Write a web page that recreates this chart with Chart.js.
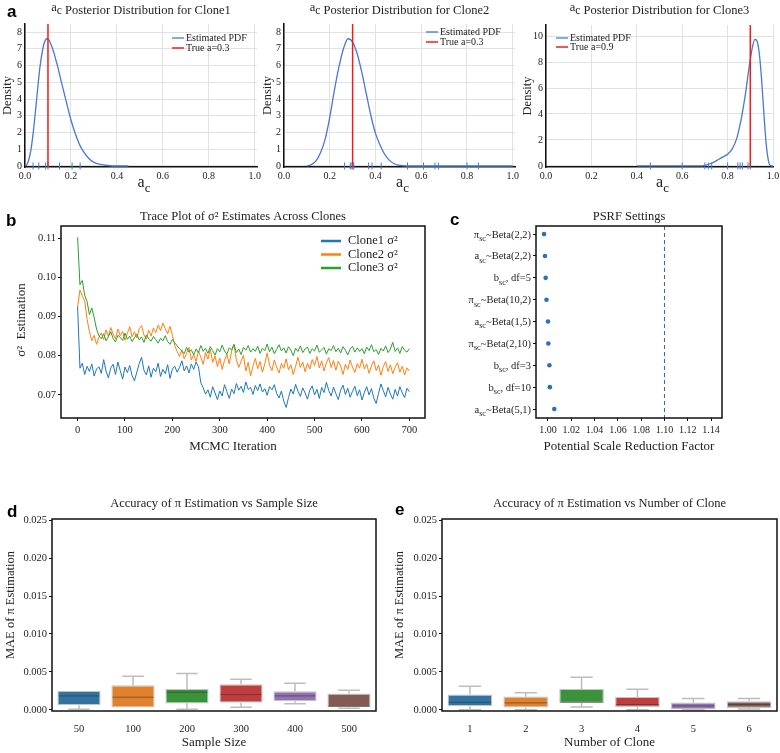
<!DOCTYPE html>
<html>
<head>
<meta charset="utf-8">
<title>Posterior, trace, PSRF and MAE panels</title>
<script src="https://cdn.jsdelivr.net/npm/chart.js@4.4.1/dist/chart.umd.min.js"></script>
<style>
  body { margin: 0; background: #fff; }
  #fig { position: relative; width: 780px; height: 753px; overflow: hidden; background: #fff; }
  #fig canvas { position: absolute; }
</style>
</head>
<body>
<div id="fig">
  <canvas id="a1" width="262" height="195" style="left:0px;top:0px"></canvas>
  <canvas id="a2" width="260" height="195" style="left:260px;top:0px"></canvas>
  <canvas id="a3" width="260" height="195" style="left:520px;top:0px"></canvas>
  <canvas id="bChart" width="430" height="255" style="left:0px;top:200px"></canvas>
  <canvas id="cChart" width="380" height="255" style="left:400px;top:200px"></canvas>
  <canvas id="dChart" width="390" height="273" style="left:0px;top:480px"></canvas>
  <canvas id="eChart" width="390" height="273" style="left:390px;top:480px"></canvas>
</div>
<script>
// ---- panel a: posterior density of a_c per clone ----
const clone1Grid = [0.005, 0.015, 0.025, 0.035, 0.045, 0.055, 0.065, 0.075, 0.085, 0.095, 0.105, 0.115, 0.125, 0.135, 0.145,
  0.155, 0.165, 0.175, 0.185, 0.195, 0.21, 0.225, 0.24, 0.26, 0.28, 0.30, 0.33, 0.36, 0.40, 0.45];
const clone1Pdf = [0.0, 0.3, 0.9, 1.9, 3.2, 4.6, 5.9, 6.8, 7.4, 7.6, 7.5, 7.2, 6.8, 6.3, 5.8,
  5.2, 4.65, 4.1, 3.55, 3.0, 2.3, 1.7, 1.2, 0.75, 0.42, 0.22, 0.09, 0.03, 0.0, 0.0];
const clone2Grid = [0.10, 0.12, 0.14, 0.16, 0.18, 0.20, 0.22, 0.24, 0.26, 0.28, 0.30, 0.32, 0.34, 0.36, 0.38,
  0.40, 0.42, 0.44, 0.46, 0.48, 0.50, 0.55, 0.70, 0.85, 1.00];
const clone2Pdf = [0.0, 0.08, 0.3, 0.8, 1.6, 2.9, 4.5, 5.9, 7.0, 7.6, 7.4, 6.7, 5.6, 4.3, 3.0,
  1.95, 1.25, 0.7, 0.35, 0.15, 0.05, 0.0, 0.0, 0.0, 0.0];
const clone3Grid = [0.40, 0.60, 0.68, 0.70, 0.72, 0.74, 0.76, 0.78, 0.80, 0.82, 0.84, 0.85, 0.86, 0.87, 0.88,
  0.89, 0.90, 0.91, 0.92, 0.93, 0.94, 0.95, 0.96, 0.97, 0.98, 0.99, 1.00];
const clone3Pdf = [0.0, 0.0, 0.0, 0.05, 0.15, 0.3, 0.5, 0.7, 0.9, 1.3, 2.1, 2.8, 3.6, 4.6, 5.7,
  7.0, 8.2, 9.2, 9.75, 9.6, 8.6, 6.6, 4.0, 1.7, 0.4, 0.02, 0.0];
const clone1Rug = [0.035, 0.06, 0.09, 0.10, 0.15, 0.205, 0.24];
const clone2Rug = [0.265, 0.29, 0.297, 0.301, 0.305, 0.37, 0.385, 0.425, 0.54, 0.61, 0.66, 0.675, 0.80, 0.85];
const clone3Rug = [0.46, 0.60, 0.70, 0.715, 0.73, 0.80, 0.845, 0.855, 0.865, 0.89, 0.90];
const trueLines = [0.1, 0.3, 0.9];
const trueLabels = ['True a=0.3', 'True a=0.3', 'True a=0.9'];

// ---- panel b: sigma^2 trace, one value every 5 iterations ----
const traceStep = 5;
const clone1Trace = [
  0.0926, 0.0768, 0.0781, 0.0752, 0.0773, 0.0760, 0.0779, 0.0748, 0.0766, 0.0772,
  0.0755, 0.0790, 0.0761, 0.0743, 0.0769, 0.0778, 0.0752, 0.0784, 0.0762, 0.0740,
  0.0771, 0.0757, 0.0775, 0.0749, 0.0736, 0.0758, 0.0780, 0.0796, 0.0763, 0.0751,
  0.0774, 0.0745, 0.0768, 0.0759, 0.0781, 0.0747, 0.0765, 0.0754, 0.0777, 0.0742,
  0.0766, 0.0773, 0.0758, 0.0770, 0.0787, 0.0761, 0.0774, 0.0756, 0.0779, 0.0765,
  0.0784, 0.0772, 0.0731, 0.0718, 0.0702, 0.0713, 0.0694, 0.0721, 0.0705, 0.0688,
  0.0710, 0.0697, 0.0726, 0.0708, 0.0691, 0.0715, 0.0703, 0.0729, 0.0712, 0.0722,
  0.0706, 0.0733, 0.0714, 0.0719, 0.0701, 0.0724, 0.0711, 0.0728, 0.0707, 0.0716,
  0.0699, 0.0721, 0.0713, 0.0726, 0.0704, 0.0692, 0.0710, 0.0684, 0.0668, 0.0693,
  0.0715, 0.0702, 0.0727, 0.0709, 0.0696, 0.0718, 0.0705, 0.0689, 0.0712, 0.0723,
  0.0700, 0.0714, 0.0691, 0.0719, 0.0706, 0.0732, 0.0711, 0.0697, 0.0720, 0.0703,
  0.0688, 0.0712, 0.0725, 0.0701, 0.0717, 0.0694, 0.0709, 0.0722, 0.0698, 0.0713,
  0.0687, 0.0706, 0.0721, 0.0700, 0.0716, 0.0692, 0.0678, 0.0704, 0.0728, 0.0711,
  0.0695, 0.0719, 0.0702, 0.0689, 0.0714, 0.0697, 0.0721, 0.0705, 0.0693, 0.0717,
  0.0708];
const clone2Trace = [
  0.0925, 0.0968, 0.0952, 0.0940, 0.0893, 0.0861, 0.0838, 0.0852, 0.0829, 0.0847,
  0.0858, 0.0841, 0.0866, 0.0849, 0.0872, 0.0855, 0.0843, 0.0868, 0.0851, 0.0862,
  0.0839, 0.0857, 0.0874, 0.0848, 0.0861, 0.0845, 0.0869, 0.0877, 0.0853, 0.0842,
  0.0865, 0.0850, 0.0871, 0.0859, 0.0878, 0.0864, 0.0883, 0.0869, 0.0856, 0.0875,
  0.0852, 0.0826, 0.0811, 0.0798, 0.0815, 0.0792, 0.0806, 0.0821, 0.0789, 0.0803,
  0.0785, 0.0812, 0.0796, 0.0778, 0.0808, 0.0791, 0.0817, 0.0783, 0.0799, 0.0772,
  0.0794, 0.0765, 0.0788, 0.0804, 0.0779, 0.0812, 0.0828, 0.0790, 0.0770, 0.0786,
  0.0801, 0.0761, 0.0783, 0.0748, 0.0774, 0.0793, 0.0767, 0.0785, 0.0758, 0.0779,
  0.0807, 0.0776, 0.0762, 0.0789, 0.0771, 0.0756, 0.0780, 0.0768, 0.0792, 0.0764,
  0.0777, 0.0752, 0.0773, 0.0796, 0.0770, 0.0784, 0.0759, 0.0781, 0.0766, 0.0790,
  0.0775, 0.0798, 0.0769, 0.0787, 0.0761, 0.0782, 0.0795, 0.0770, 0.0788, 0.0763,
  0.0786, 0.0774, 0.0752, 0.0778, 0.0765, 0.0789, 0.0771, 0.0757, 0.0780, 0.0768,
  0.0791, 0.0766, 0.0779, 0.0755, 0.0774, 0.0787, 0.0762, 0.0776, 0.0750, 0.0772,
  0.0785, 0.0760, 0.0777, 0.0754, 0.0770, 0.0782, 0.0758, 0.0773, 0.0751, 0.0769,
  0.0761];
const clone3Trace = [
  0.1102, 0.0981, 0.0992, 0.0954, 0.0938, 0.0905, 0.0922, 0.0897, 0.0868, 0.0851,
  0.0843, 0.0856, 0.0838, 0.0849, 0.0861, 0.0844, 0.0835, 0.0852, 0.0847, 0.0839,
  0.0858, 0.0842, 0.0850, 0.0836, 0.0846, 0.0855, 0.0840, 0.0848, 0.0834, 0.0853,
  0.0843, 0.0837, 0.0849, 0.0841, 0.0832, 0.0845, 0.0838, 0.0851, 0.0836, 0.0829,
  0.0842, 0.0833, 0.0825, 0.0818, 0.0812, 0.0805, 0.0821, 0.0809, 0.0815, 0.0802,
  0.0817, 0.0808, 0.0826, 0.0811, 0.0819, 0.0806, 0.0823, 0.0813, 0.0801, 0.0818,
  0.0810, 0.0827, 0.0812, 0.0804, 0.0820, 0.0815, 0.0829, 0.0808, 0.0817, 0.0803,
  0.0821, 0.0814, 0.0826, 0.0809, 0.0818, 0.0811, 0.0824, 0.0806, 0.0819, 0.0813,
  0.0830, 0.0810, 0.0822, 0.0805, 0.0816, 0.0828, 0.0812, 0.0820, 0.0807, 0.0823,
  0.0814, 0.0800, 0.0819, 0.0811, 0.0825, 0.0808, 0.0817, 0.0822, 0.0806, 0.0818,
  0.0812, 0.0827, 0.0809, 0.0815, 0.0821, 0.0804, 0.0818, 0.0813, 0.0826, 0.0810,
  0.0819, 0.0807, 0.0823, 0.0814, 0.0802, 0.0817, 0.0824, 0.0809, 0.0820, 0.0811,
  0.0818, 0.0805, 0.0822, 0.0813, 0.0828, 0.0810, 0.0816, 0.0803, 0.0819, 0.0812,
  0.0825, 0.0808, 0.0817, 0.0834, 0.0811, 0.0820, 0.0806, 0.0823, 0.0814, 0.0809,
  0.0818];
const traceNames = ['Clone1 σ²', 'Clone2 σ²', 'Clone3 σ²'];

// ---- panel c: PSRF per prior setting ----
const psrfSettings = ['π_sc~Beta(2,2)', 'a_sc~Beta(2,2)', 'b_sc, df=5', 'π_sc~Beta(10,2)', 'a_sc~Beta(1,5)',
  'π_sc~Beta(2,10)', 'b_sc, df=3', 'b_sc, df=10', 'a_sc~Beta(5,1)'];
const psrfValues = [0.9966, 0.9974, 0.9980, 0.9987, 1.0000, 1.0003, 1.0012, 1.0016, 1.0054];
const psrfThreshold = 1.10;

// ---- panels d, e: MAE of pi (box summaries) ----
const sampleSizes = ['50', '100', '200', '300', '400', '500'];
const sizeMin = [0.00009, 0.00031, 0.00009, 0.00035, 0.00079, 0.00022];
const sizeQ1 = [0.00061, 0.00031, 0.00083, 0.00096, 0.00114, 0.00035];
const sizeMedian = [0.00184, 0.00167, 0.00232, 0.00202, 0.00184, 0.00045];
const sizeQ3 = [0.00250, 0.00325, 0.00276, 0.00338, 0.00246, 0.00215];
const sizeMax = [0.00250, 0.00443, 0.00478, 0.00404, 0.00351, 0.00259];

const cloneCounts = ['1', '2', '3', '4', '5', '6'];
const cloneMin = [0.00000, 0.00000, 0.00039, 0.00002, 0.00000, 0.00010];
const cloneQ1 = [0.00048, 0.00031, 0.00092, 0.00039, 0.00004, 0.00026];
const cloneMedian = [0.00101, 0.00092, 0.00101, 0.00070, 0.00053, 0.00070];
const cloneQ3 = [0.00202, 0.00175, 0.00276, 0.00171, 0.00096, 0.00114];
const cloneMax = [0.00311, 0.00224, 0.00430, 0.00272, 0.00149, 0.00149];

// ---- styling ----
const SERIF = "'Liberation Serif', 'Times New Roman', serif";
const SANS = "'Liberation Sans', Arial, sans-serif";
const INK = '#222';
const PDF_BLUE = '#4a78d0';
const TRUE_RED = '#ee1c1c';
const TRACE_COLORS = ['#1f77b4', '#ff7f0e', '#2ca02c'];
const BOX_COLORS = ['#3274a1', '#e1812c', '#3a923a', '#c03d3e', '#9372b2', '#845b53'];

Chart.defaults.font.family = SERIF;
Chart.defaults.color = INK;
Chart.defaults.animation = false;
Chart.defaults.events = [];
Chart.defaults.plugins.legend.display = false;
Chart.defaults.plugins.tooltip.enabled = false;

function xy(xs, ys) {
  return xs.map((x, i) => ({ x: x, y: ys[i] }));
}

function fitWidth(w) {
  return s => { s.width = w; s.paddingTop = 0; s.paddingBottom = 0; s.paddingLeft = 0; s.paddingRight = 0; };
}
function fitHeight(h) {
  return s => { s.height = h; s.paddingTop = 0; s.paddingBottom = 0; s.paddingLeft = 0; s.paddingRight = 0; };
}

function put(ctx, str, x, y, size, opt) {
  opt = opt || {};
  ctx.font = (opt.bold ? 'bold ' : '') + size + 'px ' + (opt.family || SERIF);
  ctx.fillStyle = opt.color || INK;
  ctx.textAlign = opt.align || 'center';
  ctx.textBaseline = opt.baseline || 'alphabetic';
  if (opt.rotate) {
    ctx.save();
    ctx.translate(x, y);
    ctx.rotate(opt.rotate);
    ctx.fillText(str, 0, 0);
    ctx.restore();
  } else {
    ctx.fillText(str, x, y);
  }
}

// parts: [text, size, dy]
function rich(ctx, parts, x, y, align) {
  let width = 0;
  parts.forEach(p => { ctx.font = p[1] + 'px ' + SERIF; width += ctx.measureText(p[0]).width; });
  let cx = align === 'right' ? x - width : align === 'left' ? x : x - width / 2;
  ctx.fillStyle = INK;
  ctx.textAlign = 'left';
  ctx.textBaseline = 'alphabetic';
  parts.forEach(p => {
    ctx.font = p[1] + 'px ' + SERIF;
    ctx.fillText(p[0], cx, y + p[2]);
    cx += ctx.measureText(p[0]).width;
  });
}

function subParts(label, size) {
  return label.split(/_([a-z]+)/).map((s, i) => i % 2 ? [s, size * 0.78, size * 0.32] : [s, size, 0]);
}

function frame(ctx, a) {
  ctx.strokeStyle = '#111';
  ctx.lineWidth = 1.5;
  ctx.strokeRect(a.left, a.top, a.right - a.left, a.bottom - a.top);
}

function legendRow(ctx, color, x1, x2, y, lw, label, size) {
  ctx.strokeStyle = color;
  ctx.lineWidth = lw;
  ctx.beginPath();
  ctx.moveTo(x1, y);
  ctx.lineTo(x2, y);
  ctx.stroke();
  put(ctx, label, x2 + 2, y, size, { align: 'left', baseline: 'middle' });
}

function deco(fn) {
  return {
    id: 'deco',
    afterDraw(chart) {
      const ctx = chart.ctx;
      ctx.save();
      fn(ctx, chart, chart.chartArea);
      ctx.restore();
    }
  };
}

function whiskers(lo, hi, med) {
  return {
    id: 'whiskers',
    afterDatasetsDraw(chart) {
      const ctx = chart.ctx;
      const y = chart.scales.y;
      const bars = chart.getDatasetMeta(0).data;
      const q = chart.data.datasets[0].data;
      ctx.save();
      bars.forEach((bar, i) => {
        const cx = bar.x, half = bar.width / 2, cap = bar.width / 4;
        ctx.strokeStyle = '#bdbdbd';
        ctx.lineWidth = 1.5;
        ctx.beginPath();
        if (hi[i] > q[i][1]) {
          ctx.moveTo(cx, y.getPixelForValue(q[i][1]));
          ctx.lineTo(cx, y.getPixelForValue(hi[i]));
          ctx.moveTo(cx - cap, y.getPixelForValue(hi[i]));
          ctx.lineTo(cx + cap, y.getPixelForValue(hi[i]));
        }
        if (lo[i] < q[i][0]) {
          ctx.moveTo(cx, y.getPixelForValue(q[i][0]));
          ctx.lineTo(cx, y.getPixelForValue(lo[i]));
          ctx.moveTo(cx - cap, y.getPixelForValue(lo[i]));
          ctx.lineTo(cx + cap, y.getPixelForValue(lo[i]));
        }
        ctx.stroke();
        ctx.strokeStyle = 'rgba(50,50,50,0.55)';
        ctx.lineWidth = 1;
        ctx.beginPath();
        ctx.moveTo(cx - half + 1, y.getPixelForValue(med[i]));
        ctx.lineTo(cx + half - 1, y.getPixelForValue(med[i]));
        ctx.stroke();
      });
      ctx.restore();
    }
  };
}

// ---- panel a ----
function densityChart(cfg) {
  return new Chart(document.getElementById(cfg.id), {
    type: 'scatter',
    data: {
      datasets: [
        { data: [{ x: cfg.truth, y: cfg.yMin }, { x: cfg.truth, y: cfg.yMax }], showLine: true,
          borderColor: TRUE_RED, borderWidth: 1.5, pointRadius: 0, order: 0 },
        { data: xy(cfg.grid, cfg.pdf), showLine: true, borderColor: PDF_BLUE, borderWidth: 1.3,
          pointRadius: 0, cubicInterpolationMode: 'monotone', order: 1 },
        { data: cfg.rug.map(v => ({ x: v, y: 0 })), pointStyle: 'line', pointRotation: 90, pointRadius: 3.5,
          pointBorderColor: PDF_BLUE, pointBorderWidth: 1, clip: false, order: 2 }
      ]
    },
    options: {
      responsive: false,
      layout: { padding: { left: 0, top: cfg.top, right: cfg.right, bottom: 0 } },
      scales: {
        x: {
          type: 'linear', min: 0, max: cfg.xMax, afterFit: fitHeight(28),
          grid: { color: '#e2e2e2', drawTicks: false },
          border: { color: '#111', width: 1.5 },
          ticks: { stepSize: 0.2, includeBounds: false, padding: 3, autoSkip: false, maxRotation: 0,
                   font: { size: 10 }, callback: v => v.toFixed(1) }
        },
        y: {
          min: cfg.yMin, max: cfg.yMax, afterFit: fitWidth(cfg.left),
          grid: { color: '#e2e2e2', drawTicks: false },
          border: { color: '#111', width: 1.5 },
          ticks: { stepSize: cfg.yStep, includeBounds: false, padding: 3, font: { size: 10 } }
        }
      }
    },
    plugins: [deco((ctx, chart, a) => {
      const mid = (a.left + a.right) / 2;
      if (cfg.letter) put(ctx, 'a', 7, 17, 17, { family: SANS, bold: true, align: 'left', color: '#000' });
      rich(ctx, [['a', 12.5, -3], ['c', 11.5, 0], [' Posterior Distribution for ' + cfg.name, 12.5, 0]], mid, 14);
      rich(ctx, [['a', 16, 0], ['c', 13, 5]], mid + 3, 187);
      put(ctx, 'Density', 8, (a.top + a.bottom) / 2, 12.5, { rotate: -Math.PI / 2, baseline: 'middle' });
      legendRow(ctx, PDF_BLUE, cfg.lg[0], cfg.lg[1], cfg.lg[2], 1.3, 'Estimated PDF', 10);
      legendRow(ctx, TRUE_RED, cfg.lg[0], cfg.lg[1], cfg.lg[3], 1.5, cfg.truthLabel, 10);
    })]
  });
}

densityChart({ id: 'a1', name: 'Clone1', grid: clone1Grid, pdf: clone1Pdf, rug: clone1Rug, truth: trueLines[0],
  truthLabel: trueLabels[0], yMin: -0.06, yMax: 8.48, yStep: 1, xMax: 1.01, top: 24, right: 5, left: 25,
  lg: [172, 184, 38, 48], letter: true });
densityChart({ id: 'a2', name: 'Clone2', grid: clone2Grid, pdf: clone2Pdf, rug: clone2Rug, truth: trueLines[1],
  truthLabel: trueLabels[1], yMin: -0.06, yMax: 8.48, yStep: 1, xMax: 1.01, top: 24, right: 5, left: 24,
  lg: [166, 178, 32, 42] });
densityChart({ id: 'a3', name: 'Clone3', grid: clone3Grid, pdf: clone3Pdf, rug: clone3Rug, truth: trueLines[2],
  truthLabel: trueLabels[2], yMin: -0.08, yMax: 10.85, yStep: 2, xMax: 1.0, top: 25, right: 7, left: 26,
  lg: [36, 48, 38, 47] });

// ---- panel b ----
const traceIter = clone1Trace.map((_, i) => i * traceStep);
const traces = [clone1Trace, clone2Trace, clone3Trace];

new Chart(document.getElementById('bChart'), {
  type: 'scatter',
  data: {
    datasets: traces.map((t, k) => ({
      data: xy(traceIter, t), showLine: true, borderColor: TRACE_COLORS[k], borderWidth: 1,
      pointRadius: 0, order: 2 - k
    }))
  },
  options: {
    responsive: false,
    layout: { padding: { left: 0, top: 26, right: 5, bottom: 0 } },
    scales: {
      x: {
        min: -35, max: 733, afterFit: fitHeight(37),
        grid: { drawOnChartArea: false, tickLength: 3, color: '#111' },
        border: { display: false },
        ticks: { stepSize: 100, includeBounds: false, padding: 3, autoSkip: false, maxRotation: 0,
                 font: { size: 10.5 }, callback: v => String(v) }
      },
      y: {
        min: 0.0641, max: 0.1131, afterFit: fitWidth(61),
        grid: { drawOnChartArea: false, tickLength: 3, color: '#111' },
        border: { display: false },
        ticks: { stepSize: 0.01, includeBounds: false, padding: 2, font: { size: 10.5 }, callback: v => v.toFixed(2) }
      }
    }
  },
  plugins: [deco((ctx, chart, a) => {
    frame(ctx, a);
    put(ctx, 'b', 6, 26, 17, { family: SANS, bold: true, align: 'left', color: '#000' });
    put(ctx, 'Trace Plot of σ² Estimates Across Clones', (a.left + a.right) / 2, 20, 12.5);
    put(ctx, 'σ²  Estimation', 22, 120, 13, { rotate: -Math.PI / 2, baseline: 'middle' });
    put(ctx, 'MCMC Iteration', 233, 250, 13);
    traceNames.forEach((n, k) => legendRow(ctx, TRACE_COLORS[k], 321, 341, 41 + k * 13.5, 2.5, '', 12.5));
    traceNames.forEach((n, k) => put(ctx, n, 348, 41 + k * 13.5, 12.5, { align: 'left', baseline: 'middle' }));
  })]
});

// ---- panel c ----
new Chart(document.getElementById('cChart'), {
  type: 'scatter',
  data: {
    datasets: [
      { data: psrfValues.map((v, i) => ({ x: v, y: i })), pointRadius: 2.3, pointBackgroundColor: '#2a6fbf',
        pointBorderWidth: 0 },
      { data: [{ x: psrfThreshold, y: -0.37 }, { x: psrfThreshold, y: 8.41 }], showLine: true,
        borderColor: '#2a5fbf', borderWidth: 1, borderDash: [4, 3], pointRadius: 0 }
    ]
  },
  options: {
    responsive: false,
    layout: { padding: { left: 0, top: 26, right: 58, bottom: 0 } },
    scales: {
      x: {
        min: 0.9897, max: 1.1494, afterFit: fitHeight(37),
        grid: { drawOnChartArea: false, tickLength: 3, color: '#111' },
        border: { display: false },
        ticks: { stepSize: 0.02, includeBounds: false, padding: 3, autoSkip: false, maxRotation: 0,
                 font: { size: 10 }, callback: v => v.toFixed(2) }
      },
      y: {
        reverse: true, min: -0.37, max: 8.41, afterFit: fitWidth(136),
        grid: { drawOnChartArea: false, tickLength: 3, color: '#111' },
        border: { display: false },
        ticks: { stepSize: 1, includeBounds: false, callback: () => '' }
      }
    }
  },
  plugins: [deco((ctx, chart, a) => {
    frame(ctx, a);
    const y = chart.scales.y;
    psrfSettings.forEach((lab, i) => rich(ctx, subParts(lab, 10.5), a.left - 5, y.getPixelForValue(i) + 3.5, 'right'));
    put(ctx, 'c', 50, 25, 17, { family: SANS, bold: true, align: 'left', color: '#000' });
    put(ctx, 'PSRF Settings', (a.left + a.right) / 2, 20, 12.5);
    put(ctx, 'Potential Scale Reduction Factor', (a.left + a.right) / 2, 250, 13);
  })]
});

// ---- panels d, e ----
function boxChart(cfg) {
  return new Chart(document.getElementById(cfg.id), {
    type: 'bar',
    data: {
      labels: cfg.cats,
      datasets: [{
        data: cfg.q1.map((v, i) => [v, cfg.q3[i]]),
        backgroundColor: BOX_COLORS, borderColor: '#c4c4c4', borderWidth: 1.2, borderSkipped: false,
        barPercentage: 0.8, categoryPercentage: 1
      }]
    },
    options: {
      responsive: false,
      layout: { padding: { left: 0, top: 39, right: cfg.right, bottom: 0 } },
      scales: {
        x: {
          afterFit: fitHeight(42),
          grid: { display: false },
          border: { display: false },
          ticks: { padding: 4, font: { size: 10.5 } }
        },
        y: {
          min: -0.00015, max: 0.02515, afterFit: fitWidth(52),
          grid: { drawOnChartArea: false, tickLength: 3, color: '#111' },
          border: { display: false },
          ticks: { stepSize: 0.005, includeBounds: false, padding: 2, font: { size: 10.5 }, callback: v => v.toFixed(3) }
        }
      }
    },
    plugins: [whiskers(cfg.lo, cfg.hi, cfg.med), deco((ctx, chart, a) => {
      frame(ctx, a);
      const mid = (a.left + a.right) / 2;
      put(ctx, cfg.letter, cfg.letterX, cfg.letterY, 17, { family: SANS, bold: true, align: 'left', color: '#000' });
      put(ctx, cfg.title, mid, 27, 12.5);
      put(ctx, 'MAE of π Estimation', cfg.yTitleX, 125, 12.5, { rotate: -Math.PI / 2, baseline: 'middle' });
      put(ctx, cfg.xTitle, mid, 266, 13);
    })]
  });
}

boxChart({ id: 'dChart', cats: sampleSizes, q1: sizeQ1, q3: sizeQ3, med: sizeMedian, lo: sizeMin, hi: sizeMax,
  right: 14, letter: 'd', letterX: 7, letterY: 37, yTitleX: 11,
  title: 'Accuracy of π Estimation vs Sample Size', xTitle: 'Sample Size' });
boxChart({ id: 'eChart', cats: cloneCounts, q1: cloneQ1, q3: cloneQ3, med: cloneMedian, lo: cloneMin, hi: cloneMax,
  right: 3, letter: 'e', letterX: 5, letterY: 35, yTitleX: 10,
  title: 'Accuracy of π Estimation vs Number of Clone', xTitle: 'Number of Clone' });
</script>
</body>
</html>
